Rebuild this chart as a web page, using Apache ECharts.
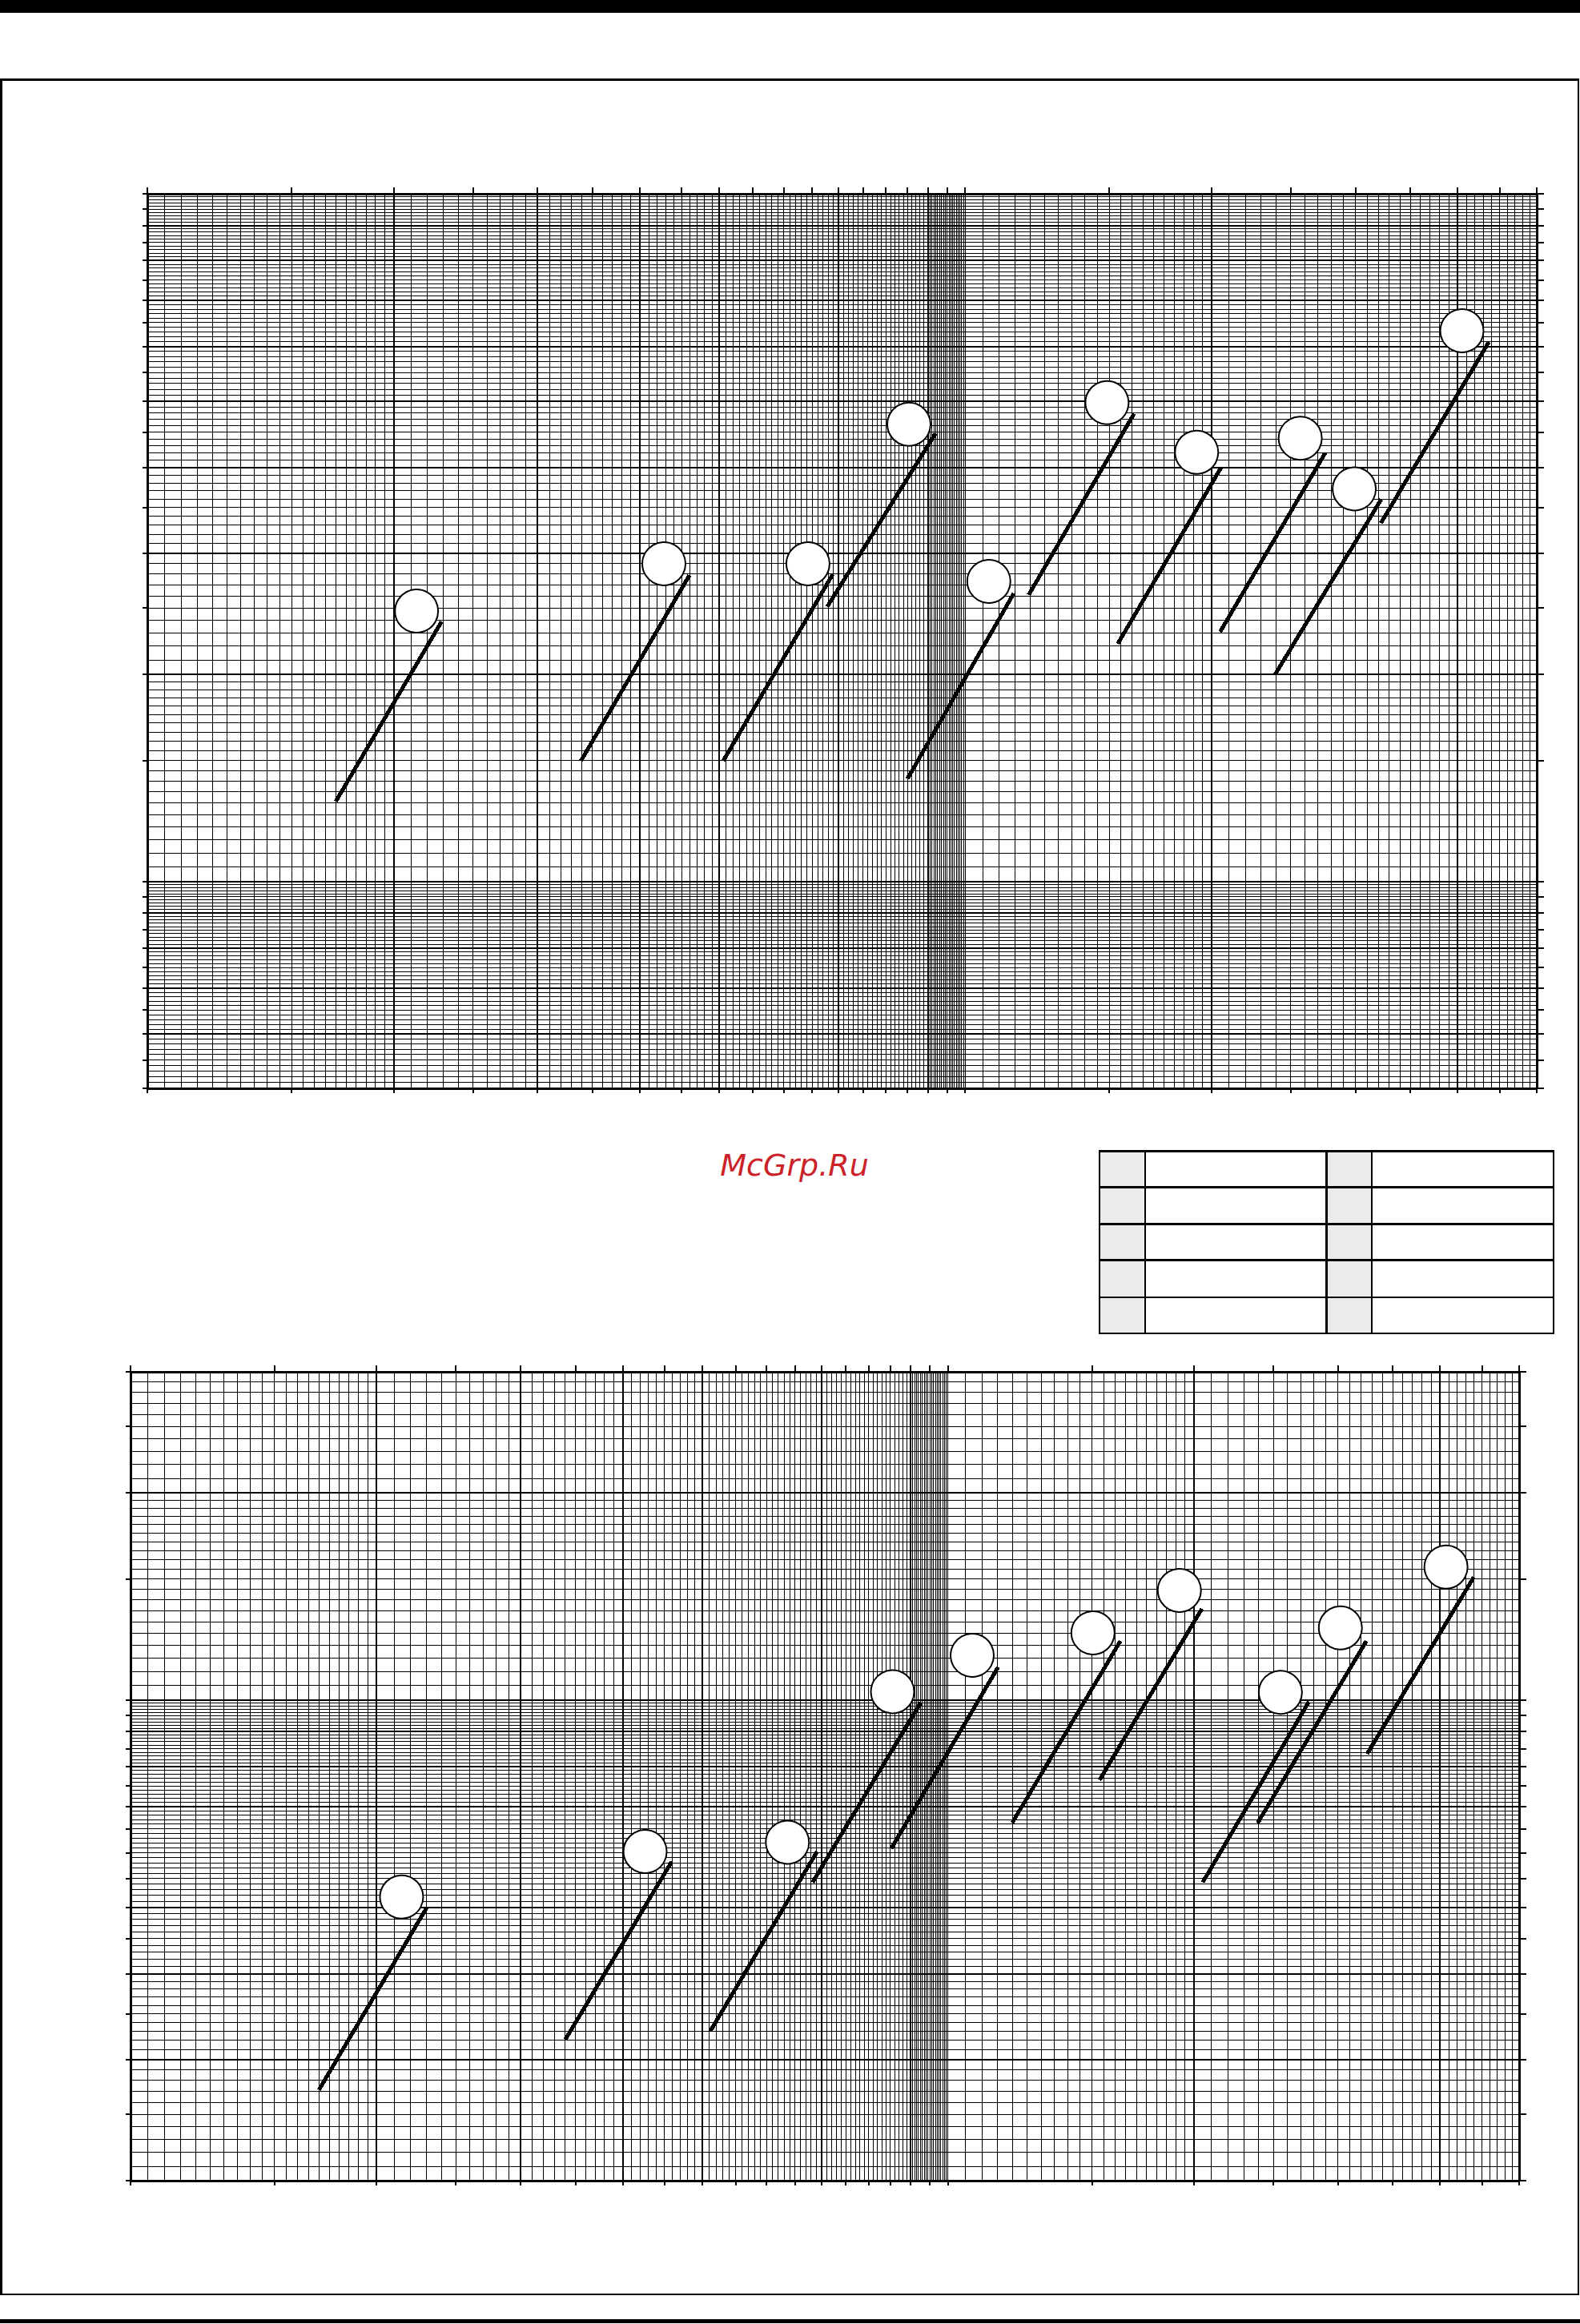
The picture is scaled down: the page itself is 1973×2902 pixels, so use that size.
<!DOCTYPE html>
<html>
<head>
<meta charset="utf-8">
<script src="https://cdn.jsdelivr.net/npm/echarts@6/dist/echarts.min.js"></script>
<style>
html,body{margin:0;padding:0;background:#fff;}
#c{width:1973px;height:2902px;}
#c svg path[fill="none"]{shape-rendering:crispEdges;}
</style>
</head>
<body>
<div id="c"></div>
<script>
// ---- axis extents ----
const xRange = [1, 50];
const yRangeTop = [0.5, 10];
const yRangeBottom = [0.2, 3];

// ---- grid-line ranges [from, to, step] and major lines ----
const xMinorRanges = [[1, 2, 0.05], [2, 9, 0.1], [9, 10, 0.05], [10, 20, 0.5], [20, 50, 1]];
const xMajor = [1, 2, 3, 4, 5, 7, 9, 20, 40, 50];
const xTicks = [1, 1.5, 2, 2.5, 3, 3.5, 4, 4.5, 5, 5.5, 6, 6.5, 7, 7.5, 8, 8.5, 9, 9.5, 10, 15, 20, 25, 30, 35, 40, 45, 50];

const yMinorRangesTop = [[0.5, 1, 0.01], [1, 2, 0.05], [2, 10, 0.1]];
const yMajorTop = [0.5, 0.6, 0.7, 0.8, 0.9, 1, 2, 3, 4, 5, 6, 7, 8, 9, 10];
const yTicksTop = [0.5, 0.55, 0.6, 0.65, 0.7, 0.75, 0.8, 0.85, 0.9, 0.95, 1, 1.5, 2, 2.5, 3, 3.5, 4, 4.5, 5, 5.5, 6, 6.5, 7, 7.5, 8, 8.5, 9, 9.5, 10];

const yMinorRangesBottom = [[0.2, 0.7, 0.01], [0.7, 0.9, 0.01], [0.9, 1, 0.005], [1, 2, 0.05], [2, 3, 0.1]];
const yMajorBottom = [0.2, 0.3, 0.4, 0.5, 0.7, 0.8, 0.9, 1, 2, 3];
const yTicksBottom = [0.2, 0.25, 0.3, 0.35, 0.4, 0.45, 0.5, 0.55, 0.6, 0.65, 0.7, 0.75, 0.8, 0.85, 0.9, 0.95, 1, 1.5, 2, 2.5, 3];

// ---- top panel: segment start, segment end, circle centre ----
const topStart = [[1.70, 1.307], [3.39, 1.497], [5.06, 1.497], [6.78, 2.508], [8.50, 1.410], [11.96, 2.610], [15.37, 2.216], [20.50, 2.306], [23.92, 1.997], [32.24, 3.32]];
const topEnd = [[2.29, 2.387], [4.60, 2.786], [6.89, 2.798], [9.20, 4.482], [11.47, 2.624], [16.09, 4.789], [20.56, 3.999], [27.57, 4.200], [32.26, 3.592], [43.70, 6.09]];
const topCircles = [[2.134, 2.472], [4.282, 2.897], [6.424, 2.897], [8.536, 4.622], [10.69, 2.731], [14.91, 4.969], [19.19, 4.207], [25.69, 4.411], [29.91, 3.722], [40.5, 6.32]];

// ---- bottom panel ----
const bottomStart = [[1.700, 0.271], [3.405, 0.321], [5.121, 0.330], [6.831, 0.543], [8.524, 0.608], [11.99, 0.663], [15.33, 0.765], [20.50, 0.543], [23.93, 0.662], [32.58, 0.835]];
const bottomEnd = [[2.304, 0.499], [4.594, 0.582], [6.918, 0.602], [9.268, 0.992], [11.52, 1.116], [16.26, 1.218], [20.46, 1.357], [27.65, 0.994], [32.51, 1.218], [44.00, 1.508]];
const bottomCircles = [[2.146, 0.517], [4.262, 0.602], [6.364, 0.621], [8.557, 1.028], [10.71, 1.161], [15.05, 1.252], [19.20, 1.443], [25.52, 1.026], [30.22, 1.273], [40.69, 1.561]];

const watermark = 'McGrp.Ru';

function steps(ranges) {
  const out = [];
  ranges.forEach(function (r) {
    const n = Math.round((r[1] - r[0]) / r[2]);
    for (let i = 0; i <= n; i++) out.push(+(r[0] + i * r[2]).toFixed(4));
  });
  return Array.from(new Set(out));
}

const grids = [
  { left: 184, top: 242, width: 1735, height: 1117, outerBoundsMode: 'none' },
  { left: 163, top: 1713, width: 1734, height: 1010, outerBoundsMode: 'none' }
];

const xAxes = [], yAxes = [], series = [];

function axisCommon(gi, pos, range, ticks, len) {
  return {
    type: 'log', logBase: 10, gridIndex: gi, position: pos,
    min: range[0], max: range[1],
    axisLine: { show: true, onZero: false, lineStyle: { color: '#000', width: 3 } },
    axisTick: { show: true, customValues: ticks, length: len, inside: false, lineStyle: { color: '#000', width: 1.5 } },
    axisLabel: { show: false },
    splitLine: { show: false },
    minorTick: { show: false },
    minorSplitLine: { show: false }
  };
}

function gridLines(axisIdx, values, dim, width, z) {
  return {
    type: 'line', xAxisIndex: axisIdx.x, yAxisIndex: axisIdx.y, data: [], silent: true, z: z,
    markLine: {
      silent: true, symbol: ['none', 'none'], animation: false,
      label: { show: false },
      emphasis: { disabled: true },
      lineStyle: { type: 'solid', color: '#000', width: width, opacity: 1 },
      data: values.map(function (v) { const o = {}; o[dim] = v; return o; })
    }
  };
}

const panels = [
  { y: yRangeTop, yMinor: yMinorRangesTop, yMajor: yMajorTop, yTicks: yTicksTop, s: topStart, e: topEnd, c: topCircles },
  { y: yRangeBottom, yMinor: yMinorRangesBottom, yMajor: yMajorBottom, yTicks: yTicksBottom, s: bottomStart, e: bottomEnd, c: bottomCircles }
];

panels.forEach(function (p, gi) {
  xAxes.push(axisCommon(gi, 'bottom', xRange, xTicks, 6));
  xAxes.push(axisCommon(gi, 'top', xRange, xTicks, 8));
  yAxes.push(axisCommon(gi, 'left', p.y, p.yTicks, 6));
  yAxes.push(axisCommon(gi, 'right', p.y, p.yTicks, 9));
  const idx = { x: gi * 2, y: gi * 2 };
  series.push(gridLines(idx, steps(xMinorRanges), 'xAxis', 1, 1));
  series.push(gridLines(idx, steps(p.yMinor), 'yAxis', 1, 1));
  series.push(gridLines(idx, xMajor, 'xAxis', 2, 2));
  series.push(gridLines(idx, p.yMajor, 'yAxis', 2, 2));
  p.s.forEach(function (st, i) {
    series.push({
      type: 'line', xAxisIndex: idx.x, yAxisIndex: idx.y, z: 5, silent: true,
      symbol: 'none', showSymbol: false,
      lineStyle: { color: '#000', width: 5, cap: 'butt' },
      data: [st, p.e[i]]
    });
  });
  series.push({
    type: 'scatter', xAxisIndex: idx.x, yAxisIndex: idx.y, z: 6, silent: true,
    symbol: 'circle', symbolSize: 54,
    itemStyle: { color: '#fff', borderColor: '#000', borderWidth: 2, opacity: 1 },
    data: p.c
  });
});

// ---- page decoration: bars, frame, empty table, watermark ----
const tableX = [1373, 1430, 1656.6, 1712.9, 1940];
const tableY = [1437.7, 1482.7, 1528.7, 1573.7, 1620, 1665];
const graphics = [
  { type: 'rect', shape: { x: 0, y: 0, width: 1973, height: 16 }, style: { fill: '#000' }, z: 10 },
  { type: 'rect', shape: { x: 1.5, y: 99.5, width: 1969.5, height: 2765.5 }, style: { fill: 'none', stroke: '#000', lineWidth: 2.5 }, z: 10 },
  { type: 'rect', shape: { x: 0, y: 2896, width: 1973, height: 5 }, style: { fill: '#000' }, z: 10 },
  { type: 'rect', shape: { x: tableX[0], y: tableY[0], width: tableX[1] - tableX[0], height: tableY[5] - tableY[0] }, style: { fill: '#ebebeb' }, z: 10 },
  { type: 'rect', shape: { x: tableX[2], y: tableY[0], width: tableX[3] - tableX[2], height: tableY[5] - tableY[0] }, style: { fill: '#ebebeb' }, z: 10 }
];
tableX.forEach(function (x) {
  graphics.push({ type: 'line', shape: { x1: x, y1: tableY[0], x2: x, y2: tableY[5] }, style: { stroke: '#000', lineWidth: 2.5 }, z: 11 });
});
tableY.forEach(function (y) {
  graphics.push({ type: 'line', shape: { x1: tableX[0] - 1.2, y1: y, x2: tableX[4] + 1.2, y2: y }, style: { stroke: '#000', lineWidth: 2.5 }, z: 11 });
});
graphics.push({
  type: 'text', x: 992, y: 1455, z: 12,
  style: { text: watermark, fontSize: 38, fontStyle: 'italic', fontFamily: 'DejaVu Sans', fill: '#cc2229', align: 'center', verticalAlign: 'middle' }
});

const chart = echarts.init(document.getElementById('c'), null, { renderer: 'svg', width: 1973, height: 2902 });
chart.setOption({
  animation: false,
  backgroundColor: '#fff',
  grid: grids,
  xAxis: xAxes,
  yAxis: yAxes,
  series: series,
  graphic: graphics
});
</script>
</body>
</html>
